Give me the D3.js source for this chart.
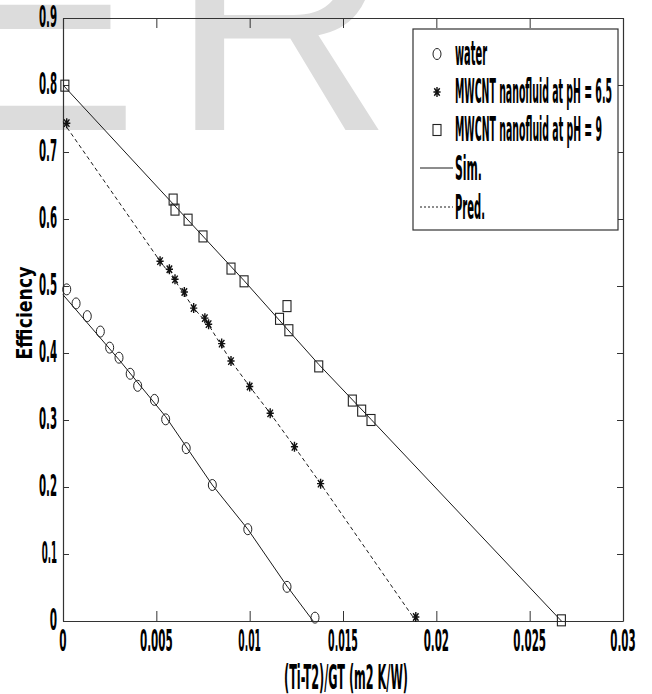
<!DOCTYPE html>
<html><head><meta charset="utf-8">
<script src="https://cdn.jsdelivr.net/npm/d3@7"></script>
<style>html,body{margin:0;padding:0;background:#fff;}svg{display:block;}</style>
</head><body>
<svg id="chart" width="652" height="694"></svg>
<script>
// ---- data ----
const xTicks = [0, 0.005, 0.01, 0.015, 0.02, 0.025, 0.03];
const xTickLabels = ["0", "0.005", "0.01", "0.015", "0.02", "0.025", "0.03"];
const yTicks = [0, 0.1, 0.2, 0.3, 0.4, 0.5, 0.6, 0.7, 0.8, 0.9];
const yTickLabels = ["0", "0.1", "0.2", "0.3", "0.4", "0.5", "0.6", "0.7", "0.8", "0.9"];

const waterX = [0.0002, 0.0007, 0.0013, 0.0020, 0.0025, 0.0030, 0.0036, 0.0040, 0.0049, 0.0055, 0.0066, 0.0080, 0.0099, 0.0120, 0.0135];
const waterY = [0.495, 0.474, 0.455, 0.432, 0.408, 0.393, 0.369, 0.351, 0.330, 0.301, 0.258, 0.203, 0.137, 0.051, 0.005];

const ph65X = [0.0002, 0.0052, 0.0057, 0.0060, 0.0065, 0.0070, 0.0076, 0.0078, 0.0085, 0.0090, 0.0100, 0.0111, 0.0124, 0.0138, 0.0189];
const ph65Y = [0.743, 0.537, 0.525, 0.510, 0.491, 0.467, 0.452, 0.443, 0.414, 0.388, 0.350, 0.310, 0.260, 0.205, 0.006];

const ph9X = [0.0001, 0.0059, 0.0060, 0.0067, 0.0075, 0.0090, 0.0097, 0.0116, 0.0120, 0.0121, 0.0137, 0.0155, 0.0160, 0.0165, 0.0267];
const ph9Y = [0.799, 0.629, 0.614, 0.599, 0.574, 0.526, 0.507, 0.451, 0.470, 0.434, 0.380, 0.329, 0.314, 0.300, 0.001];

const simWaterX = [0, 0.0030, 0.0055, 0.0080, 0.0099, 0.0120, 0.0134];
const simWaterY = [0.487, 0.390, 0.305, 0.203, 0.137, 0.052, 0.0];
const simPh9X = [0, 0.0097, 0.0137, 0.0165, 0.0267];
const simPh9Y = [0.800, 0.508, 0.383, 0.301, 0.0];
const predPh65X = [0, 0.0052, 0.0060, 0.0070, 0.0078, 0.0090, 0.0100, 0.0111, 0.0124, 0.0138, 0.0189];
const predPh65Y = [0.745, 0.537, 0.508, 0.467, 0.442, 0.388, 0.350, 0.310, 0.260, 0.205, 0.0];

const legendLabels = ["water", "MWCNT nanofluid at pH = 6.5", "MWCNT nanofluid at pH = 9", "Sim.", "Pred."];
const xTitle = "(Ti-T2)/GT (m2 K/W)";
const yTitle = "Efficiency";

// ---- drawing ----
const svg = d3.select("#chart");
const FONT = "'Liberation Sans Narrow','DejaVu Sans Condensed','Liberation Sans',sans-serif";
const INK = "#1a1a1a";

// watermark
const wm = svg.append("g").attr("fill", "#dcdcdc")
  .style("font-family", "'Liberation Sans',Arial,sans-serif").style("font-size", "320px");
wm.append("text").attr("transform", "translate(-67,130) scale(0.965,1)").text("E");
wm.append("text").attr("transform", "translate(170,130) scale(0.965,1)").text("R");

const x = d3.scaleLinear().domain([0, 0.03]).range([63, 623]);
const y = d3.scaleLinear().domain([0, 0.9]).range([621, 18]);

// axes (ticks inward, box)
const axG = svg.append("g").attr("color", "#333");
axG.append("g").attr("transform", `translate(0,${y(0)})`)
  .call(d3.axisBottom(x).tickValues(xTicks).tickSize(-10).tickSizeOuter(0).tickFormat(""));
axG.append("g").attr("transform", `translate(0,${y(0.9)})`)
  .call(d3.axisTop(x).tickValues(xTicks).tickSize(-10).tickSizeOuter(0).tickFormat(""));
axG.append("g").attr("transform", `translate(${x(0)},0)`)
  .call(d3.axisLeft(y).tickValues(yTicks).tickSize(-6).tickSizeOuter(0).tickFormat(""));
axG.append("g").attr("transform", `translate(${x(0.03)},0)`)
  .call(d3.axisRight(y).tickValues(yTicks).tickSize(-6).tickSizeOuter(0).tickFormat(""));
axG.selectAll("path.domain").attr("stroke-width", 1.2);

// condensed bold labels, squeezed to the reference widths
function fitText(g, tx, ty, txt, size, width, anchor) {
  return g.append("text").attr("x", tx).attr("y", ty)
    .attr("text-anchor", anchor || "start")
    .attr("textLength", width).attr("lengthAdjust", "spacingAndGlyphs")
    .style("font-family", FONT).style("font-weight", "bold").style("font-size", size + "px")
    .attr("fill", "#000").text(txt);
}
function labelWidth(s) {
  let w = 0;
  for (const c of s) w += (c === "." ? 3.5 : c === "1" ? 4.5 : 7.3);
  return w;
}
const lab = svg.append("g");
xTicks.forEach((t, i) => fitText(lab, x(t), 651, xTickLabels[i], 31, labelWidth(xTickLabels[i]), "middle"));
yTicks.forEach((t, i) => fitText(lab, 57, y(t) + 8.5, yTickLabels[i], 31, labelWidth(yTickLabels[i]), "end"));

// titles
fitText(lab, (x(0) + x(0.03)) / 2 + 3, 689, xTitle, 34, 124, "middle");
lab.append("text").attr("transform", "translate(32,313) rotate(-90)")
  .attr("text-anchor", "middle").attr("textLength", 93).attr("lengthAdjust", "spacingAndGlyphs")
  .style("font-family", FONT).style("font-weight", "bold").style("font-size", "22px").text(yTitle);

// lines
const line = d3.line().x(d => x(d[0])).y(d => y(d[1]));
const plot = svg.append("g").attr("fill", "none").attr("stroke", INK).attr("stroke-width", 1);
plot.append("path").attr("d", line(d3.zip(simWaterX, simWaterY)));
plot.append("path").attr("d", line(d3.zip(simPh9X, simPh9Y)));
plot.append("path").attr("d", line(d3.zip(predPh65X, predPh65Y))).attr("stroke-dasharray", "4,3");

// markers
function circleMark(g, cx, cy) {
  g.append("ellipse").attr("cx", cx).attr("cy", cy).attr("rx", 4).attr("ry", 5.5)
    .attr("fill", "none").attr("stroke", "#222").attr("stroke-width", 1);
}
function squareMark(g, cx, cy) {
  g.append("rect").attr("x", cx - 4).attr("y", cy - 5.5).attr("width", 8).attr("height", 11)
    .attr("fill", "none").attr("stroke", "#222").attr("stroke-width", 1.1);
}
function starMark(g, cx, cy) {
  const a = 3.6, b = 5;
  g.append("path").attr("d",
    `M${cx - a},${cy}H${cx + a}M${cx},${cy - b}V${cy + b}` +
    `M${cx - a * 0.75},${cy - b * 0.75}L${cx + a * 0.75},${cy + b * 0.75}` +
    `M${cx - a * 0.75},${cy + b * 0.75}L${cx + a * 0.75},${cy - b * 0.75}`)
    .attr("fill", "none").attr("stroke", "#111").attr("stroke-width", 1.4);
}
const mk = svg.append("g");
waterX.forEach((v, i) => circleMark(mk, x(v), y(waterY[i])));
ph65X.forEach((v, i) => starMark(mk, x(v), y(ph65Y[i])));
ph9X.forEach((v, i) => squareMark(mk, x(v), y(ph9Y[i])));

// legend
const lg = svg.append("g");
lg.append("rect").attr("x", 413).attr("y", 29).attr("width", 205).attr("height", 201)
  .attr("fill", "#fff").attr("stroke", "#333").attr("stroke-width", 1.2);
const baseY = [65, 103, 141, 180, 219];
const lw = [32, 157, 147, 27, 30];
circleMark(lg, 437, baseY[0] - 11);
starMark(lg, 437, baseY[1] - 11);
squareMark(lg, 437, baseY[2] - 11);
lg.append("line").attr("x1", 420).attr("x2", 453).attr("y1", baseY[3] - 12).attr("y2", baseY[3] - 12)
  .attr("stroke", INK).attr("stroke-width", 1);
lg.append("line").attr("x1", 420).attr("x2", 453).attr("y1", baseY[4] - 12).attr("y2", baseY[4] - 12)
  .attr("stroke", INK).attr("stroke-width", 1).attr("stroke-dasharray", "2,2");
legendLabels.forEach((t, i) => fitText(lg, 455, baseY[i], t, 33, lw[i], "start"));
</script>
</body></html>
